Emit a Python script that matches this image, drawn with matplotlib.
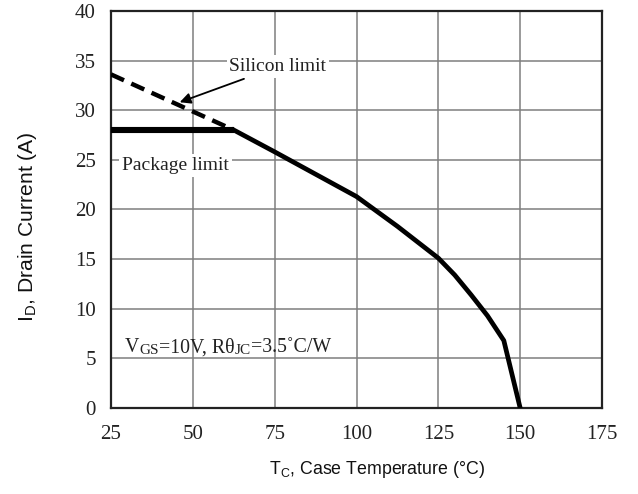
import matplotlib
matplotlib.use("Agg")
import matplotlib.pyplot as plt

# Data
package_T = [25, 62.5]
package_I = [28, 28]
silicon_T = [25, 62.5]
silicon_I = [33.6, 28]
derate_T = [62.5, 75, 100, 112.5, 125, 130, 135, 140, 145, 150]
derate_I = [28, 25.8, 21.3, 18.3, 15.1, 13.4, 11.4, 9.3, 6.8, 0]
x_ticks = [25, 50, 75, 100, 125, 150, 175]
y_ticks = [0, 5, 10, 15, 20, 25, 30, 35, 40]

serif = "Liberation Serif"
sans = "Liberation Sans"

fig = plt.figure(figsize=(6.38, 4.94), dpi=100)
ax = fig.add_axes([0.174, 0.174, 0.7696, 0.804])

ax.set_xlim(25, 175)
ax.set_ylim(0, 40)
ax.set_xticks(x_ticks)
ax.set_yticks(y_ticks)
ax.grid(True, color="#7f7f7f", linewidth=1.1)
ax.set_axisbelow(True)
for s in ax.spines.values():
    s.set_linewidth(1.6)
    s.set_color("#222222")
ax.tick_params(axis="x", length=0, pad=12)
ax.tick_params(axis="y", length=0, pad=11)
for lab in ax.get_xticklabels() + ax.get_yticklabels():
    lab.set_fontfamily(serif)
    lab.set_fontsize(15)
    lab.set_color("#222222")

ax.plot(package_T, package_I, color="black", linewidth=4.4, solid_capstyle="butt", zorder=3)
ax.plot(silicon_T, silicon_I, color="black", linewidth=3.2, linestyle=(0, (3.2, 1.8)), zorder=3)
ax.plot(derate_T, derate_I, color="black", linewidth=3.4, solid_joinstyle="round", zorder=3)

ax.annotate("Silicon limit", xy=(46, 30.8), xytext=(76, 34.4),
            fontfamily=serif, fontsize=14, color="#222222", ha="center", va="center",
            bbox=dict(boxstyle="square,pad=0.15", fc="white", ec="none"),
            arrowprops=dict(arrowstyle="-|>", color="black", lw=1.3,
                            mutation_scale=16, shrinkA=2, shrinkB=0),
            zorder=4)
ax.text(28.3, 24.4, "Package limit", fontfamily=serif, fontsize=14, color="#222222",
        ha="left", va="center",
        bbox=dict(boxstyle="square,pad=0.15", fc="white", ec="none"), zorder=4)

# VGS=10V, RθJC=3.5°C/W with small-cap subscripts
pieces = [("V", 14.3), ("GS", 11), ("=10V, R\u03b8", 14.3), ("JC", 11), ("=3.5\u02daC/W", 14.3)]
prev = ax.text(29.3, 5.6, pieces[0][0], fontfamily=serif, fontsize=pieces[0][1],
               color="#222222", ha="left", va="baseline", zorder=4)
for txt, fs in pieces[1:]:
    prev = ax.annotate(txt, xy=(1, 0), xycoords=prev, fontfamily=serif, fontsize=fs,
                       color="#222222", ha="left", va="bottom", zorder=4)

fig.text(377 / 638, 1 - 469 / 494, r"T$_\mathregular{C}$, Case Temperature (°C)",
         fontfamily=sans, fontsize=12.8, color="#111111", ha="center", va="center")
fig.text(28 / 638, 1 - 227 / 494, r"I$_\mathregular{D}$, Drain Current (A)",
         fontfamily=sans, fontsize=15.2, color="#111111", ha="center", va="center",
         rotation=90)

fig.savefig("out.png", dpi=100)
